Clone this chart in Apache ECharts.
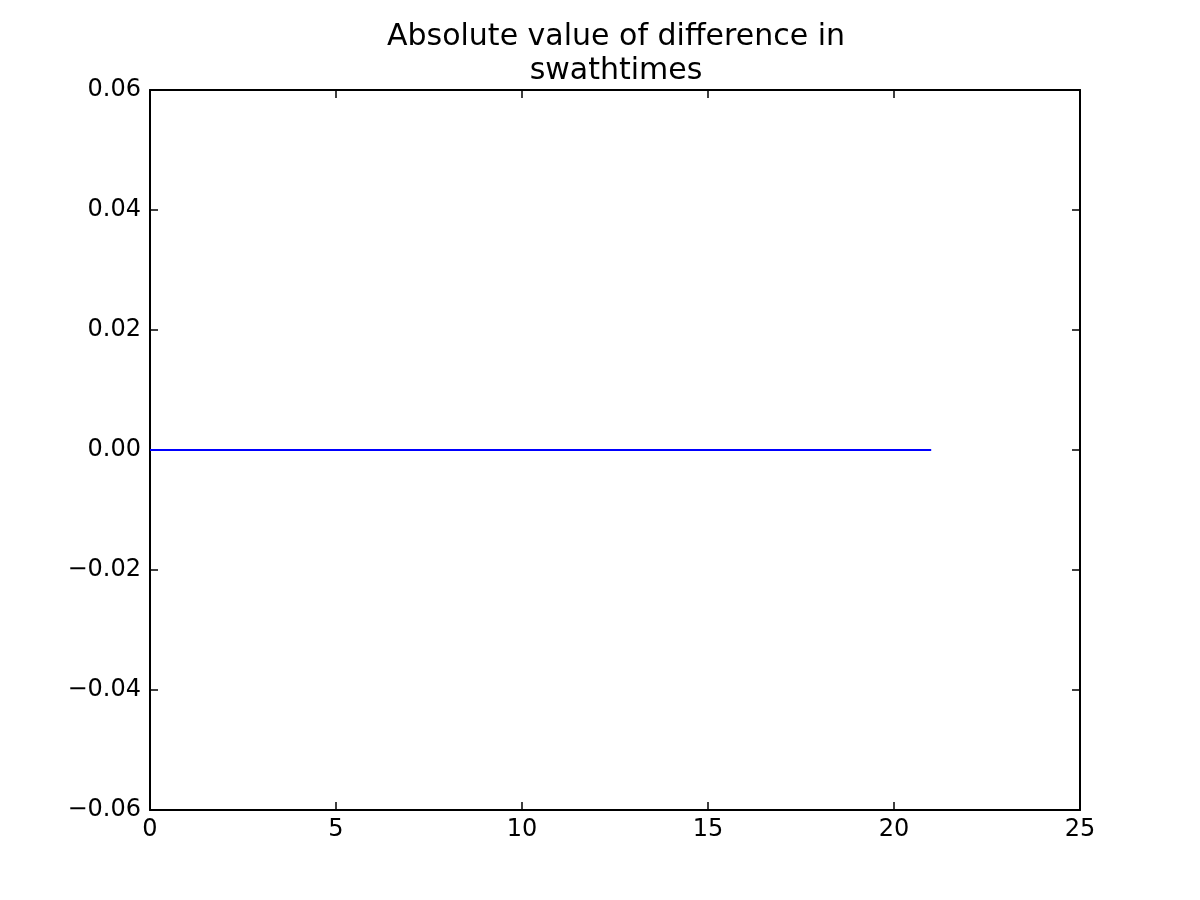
<!DOCTYPE html>
<html>
<head>
<meta charset="utf-8">
<script src="https://cdn.jsdelivr.net/npm/echarts@6/dist/echarts.min.js"></script>
<style>html,body{margin:0;padding:0;background:#fff}#c{width:1200px;height:900px}</style>
</head>
<body>
<div id="c"></div>
<script>
const titleText = 'Absolute value of difference in\nswathtimes';
const xValues = [0,1,2,3,4,5,6,7,8,9,10,11,12,13,14,15,16,17,18,19,20,21];
const yValues = [0,0,0,0,0,0,0,0,0,0,0,0,0,0,0,0,0,0,0,0,0,0];
const xTicks = {min: 0, max: 25, interval: 5};
const yTicks = {min: -0.06, max: 0.06, interval: 0.02};

const font = 'DejaVu Sans';
const fmtY = v => {
  const r = Math.round(v * 100) / 100;
  if (Math.abs(r) < 1e-9) return '0.00';
  return r < 0 ? '\u2212' + Math.abs(r).toFixed(2) : r.toFixed(2);
};
const axisCommon = {
  axisLine: {show: true, onZero: false, lineStyle: {color: '#000', width: 2}},
  axisTick: {show: true, inside: true, length: 8, lineStyle: {color: '#000', width: 1.5}},
  splitLine: {show: false}
};
const chart = echarts.init(document.getElementById('c'), null, {renderer: 'canvas'});
chart.setOption({
  animation: false,
  backgroundColor: '#fff',
  title: {
    text: titleText, left: 611, top: 15, textAlign: 'center',
    textStyle: {fontFamily: font, fontSize: 30, fontWeight: 'normal', color: '#000', lineHeight: 34}
  },
  grid: {left: 150, right: 120, top: 90, bottom: 90, containLabel: false},
  xAxis: [
    Object.assign({type: 'value', position: 'bottom', min: xTicks.min, max: xTicks.max, interval: xTicks.interval,
      axisLabel: {fontFamily: font, fontSize: 24, color: '#000', margin: 8}}, axisCommon),
    Object.assign({type: 'value', position: 'top', min: xTicks.min, max: xTicks.max, interval: xTicks.interval,
      axisLabel: {show: false}}, axisCommon)
  ],
  yAxis: [
    Object.assign({type: 'value', position: 'left', min: yTicks.min, max: yTicks.max, interval: yTicks.interval,
      axisLabel: {fontFamily: font, fontSize: 24, color: '#000', margin: 9, formatter: fmtY}}, axisCommon),
    Object.assign({type: 'value', position: 'right', min: yTicks.min, max: yTicks.max, interval: yTicks.interval,
      axisLabel: {show: false}}, axisCommon)
  ],
  series: [{
    type: 'line', xAxisIndex: 0, yAxisIndex: 0,
    data: xValues.map((x, i) => [x, yValues[i]]),
    showSymbol: false, symbol: 'none',
    lineStyle: {color: '#0000ff', width: 2}, z: 1
  }]
});
</script>
</body>
</html>
